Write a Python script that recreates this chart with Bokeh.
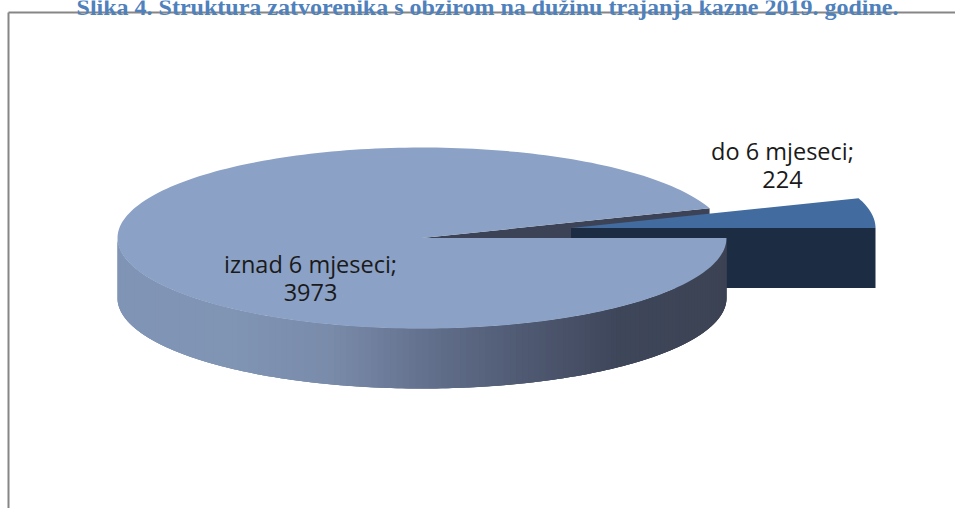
import math
from bokeh.plotting import figure
from bokeh.core.properties import value
from bokeh.embed import file_html
from bokeh.resources import INLINE

title = "Slika 4. Struktura zatvorenika s obzirom na dužinu trajanja kazne 2019. godine."
categories = ["do 6 mjeseci", "iznad 6 mjeseci"]
values = [224, 3973]

W, H = 955, 508
p = figure(width=W, height=H, x_range=(0, W), y_range=(H, 0), output_backend="svg",
           toolbar_location=None, min_border=0, outline_line_color=None,
           background_fill_color="white", border_fill_color="white")
p.margin = (0, 0, 0, 0)
p.axis.visible = False
p.grid.visible = False

cx, cy, rx, ry, depth = 421.5, 237.5, 304.5, 90.5, 60
ex_cx, ex_cy = 570.5, 227.5
share = values[0] / sum(values)
a = 2 * math.pi * share


def pt(c_x, c_y, t, dy=0):
    return c_x + rx * math.cos(t), c_y - ry * math.sin(t) + dy


def arc(c_x, c_y, t0, t1, n, dy=0):
    pts = [pt(c_x, c_y, t0 + (t1 - t0) * i / n, dy) for i in range(n + 1)]
    return [q[0] for q in pts], [q[1] for q in pts]


# frame
p.line([8, 8], [H, 12], line_color="#868686", line_width=2)
p.line([8, W], [12, 12], line_color="#868686", line_width=2)

# far cut face of the large slice
e = pt(cx, cy, a)
p.patch([cx, e[0], e[0], cx], [cy, e[1], e[1] + depth, cy + depth],
        fill_color="#3c4356", line_color=None)

# exploded small slice: side, then top
xa, ya = arc(ex_cx, ex_cy, 0, a, 30)
p.patch([ex_cx, xa[0], xa[0], ex_cx], [ex_cy, ex_cy, ex_cy + depth, ex_cy + depth],
        fill_color="#1c2d43", line_color=None)
p.patch([ex_cx] + xa, [ex_cy] + ya, fill_color="#426b9f", line_color=None)

# side wall of the large slice with horizontal shading
stops = [(117, (128, 148, 182)), (230, (128, 148, 180)), (330, (122, 139, 170)),
         (420, (100, 114, 143)), (520, (80, 90, 115)), (620, (62, 70, 90)), (727, (60, 67, 84))]


def shade(x):
    for (x0, c0), (x1, c1) in zip(stops, stops[1:]):
        if x <= x1:
            f = (x - x0) / (x1 - x0)
            return tuple(round(u + (v - u) * f) for u, v in zip(c0, c1))
    return stops[-1][1]


n = 150
for i in range(n):
    t0 = math.pi + math.pi * i / n
    t1 = min(math.pi + math.pi * (i + 3) / n, 2 * math.pi)
    xs, ys = arc(cx, cy, t0, t1, 4)
    col = "#%02x%02x%02x" % shade(pt(cx, cy, t0 + math.pi / n / 2)[0])
    p.patch(xs + xs[::-1], ys + [v + depth for v in ys[::-1]], fill_color=col, line_color=None)

# top of the large slice
xa, ya = arc(cx, cy, a, 2 * math.pi, 240)
p.patch([cx] + xa, [cy] + ya, fill_color="#8ba1c6", line_color=None)

# labels
font = value("Open Sans")
p.text([782, 782], [150, 179], text=[categories[0] + ";", str(values[0])], text_font=font,
       text_font_size="23.5px", text_color="#1a1a1a", text_align="center", text_baseline="middle")
p.text([310, 310], [263, 292], text=[categories[1] + ";", str(values[1])], text_font=font,
       text_font_size="23.5px", text_color="#1a1a1a", text_align="center", text_baseline="middle")
p.text([487], [6], text=[title], text_font=value("Liberation Serif"), text_font_style="bold",
       text_font_size="24px", text_color="#4f81bd", text_align="center", text_baseline="alphabetic")

open("out.html", "w").write(file_html(p, INLINE))
